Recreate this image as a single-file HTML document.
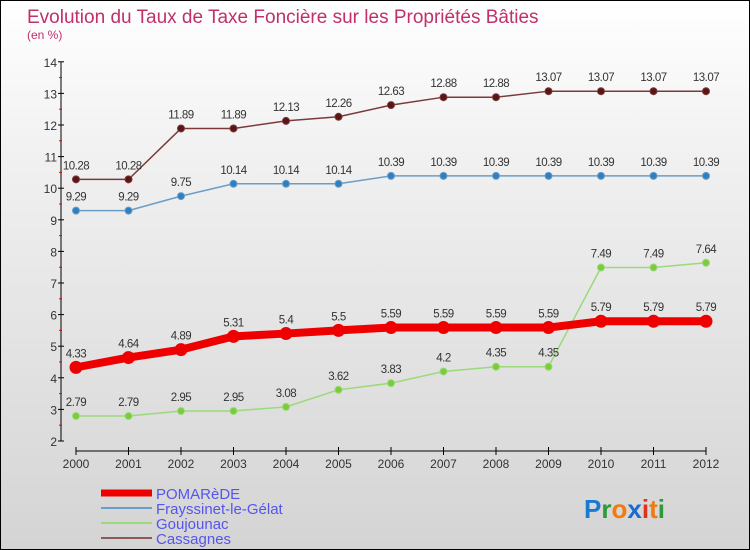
<!DOCTYPE html>
<html><head><meta charset="utf-8"><style>
body{margin:0;}
#c{position:relative;width:748px;height:548px;border:1px solid #000;background:linear-gradient(#fff 0%,#f0f0f0 30%,#d4d4d4 100%);font-family:"Liberation Sans",sans-serif;overflow:hidden}
</style></head><body>
<div id="c">
<svg id="s" width="748" height="548" xmlns="http://www.w3.org/2000/svg"></svg>
</div>
<script>
const years=[2000,2001,2002,2003,2004,2005,2006,2007,2008,2009,2010,2011,2012];
const pomarede=[4.33,4.64,4.89,5.31,5.4,5.5,5.59,5.59,5.59,5.59,5.79,5.79,5.79];
const frayssinet=[9.29,9.29,9.75,10.14,10.14,10.14,10.39,10.39,10.39,10.39,10.39,10.39,10.39];
const goujounac=[2.79,2.79,2.95,2.95,3.08,3.62,3.83,4.2,4.35,4.35,7.49,7.49,7.64];
const cassagnes=[10.28,10.28,11.89,11.89,12.13,12.26,12.63,12.88,12.88,13.07,13.07,13.07,13.07];
const yTicks=[2,3,4,5,6,7,8,9,10,11,12,13,14];
const NS="http://www.w3.org/2000/svg";
const s=document.getElementById('s');
function X(i){return 75+i*52.5;}
function Y(v){return 440-(v-2)*31.6;}
function el(t,a,p){const e=document.createElementNS(NS,t);for(const k in a)e.setAttribute(k,a[k]);(p||s).appendChild(e);return e;}
function tx(x,y,str,a){const e=el('text',Object.assign({x:x,y:y},a));e.textContent=str;return e;}
const title=tx(26,22,"Evolution du Taux de Taxe Foncière sur les Propriétés Bâties",{'font-size':19,fill:'#c0306a'});

const sub=tx(26,38,"(en %)",{'font-size':12,fill:'#c0306a'});

// axes
const ya=el('line',{x1:60,y1:Y(14),x2:60,y2:Y(2),stroke:'#000'});

yTicks.forEach(v=>{
 el('line',{x1:57,x2:63,y1:Y(v),y2:Y(v),stroke:'#000'});
 if(v<14)el('line',{x1:58,x2:61,y1:Y(v+0.5),y2:Y(v+0.5),stroke:'#e00'});
 const t=tx(56,Y(v)+5,String(v),{'font-size':12,fill:'#333','text-anchor':'end'});
 
});
const xa=el('line',{x1:75,y1:450,x2:705,y2:450,stroke:'#000'});

years.forEach((y,i)=>{
 el('line',{x1:X(i),x2:X(i),y1:446,y2:454,stroke:'#000'});
 const t=tx(X(i),467,String(y),{'font-size':12,fill:'#333','text-anchor':'middle'});
 
});
function fmt(v){return String(v).replace('.','.');}
function series(data,color,w,r,dot,name){
 const g=el('g',{});
 
 const pts=data.map((v,i)=>X(i)+','+Y(v)).join(' ');
 el('polyline',{points:pts,fill:'none',stroke:color,'stroke-width':w,'stroke-linejoin':'round'},g);
 data.forEach((v,i)=>{
  const c=el('circle',{cx:X(i),cy:Y(v),r:r,fill:dot,stroke:color,'stroke-width':1},g);
  
  const t=tx(X(i),Y(v)-10,fmt(v),{'font-size':11.5,fill:'#333','text-anchor':'middle','letter-spacing':'-0.5'},g);
  
 });
}
series(cassagnes,'#7a3a3a',1.5,3.5,'#5a1515','cassagnes');
series(frayssinet,'#6a9ec8',1.5,3.5,'#2f7fc0','frayssinet');
series(goujounac,'#9ada7a',1.5,3.5,'#7acc3a','goujounac');
series(pomarede,'#ee0000',8,6,'#ee0000','pomarede');
// legend
const leg=[['POMARèDE','#ee0000',7],['Frayssinet-le-Gélat','#6a9ec8',2],['Goujounac','#9ada7a',2],['Cassagnes','#8a5a5a',2]];
leg.forEach((l,i)=>{
 const y=492+i*15;
 const g=el('g',{});
 
 el('line',{x1:100,x2:151,y1:y,y2:y,stroke:l[1],'stroke-width':l[2]},g);
 tx(155,y+6,l[0],{'font-size':15,fill:'#5555ee'},g);
});
// logo
const lg=el('text',{x:583,y:517,'font-size':26,'font-weight':'bold'});

[['P','#1a7ad0'],['r','#2a9a3a'],['o','#f07a10'],['x','#1a6ad0'],['i','#e03020'],['t','#f07a10'],['i','#2a9a3a']].forEach(c=>{const t=el('tspan',{fill:c[1]},lg);t.textContent=c[0];});
</script>
</body></html>
